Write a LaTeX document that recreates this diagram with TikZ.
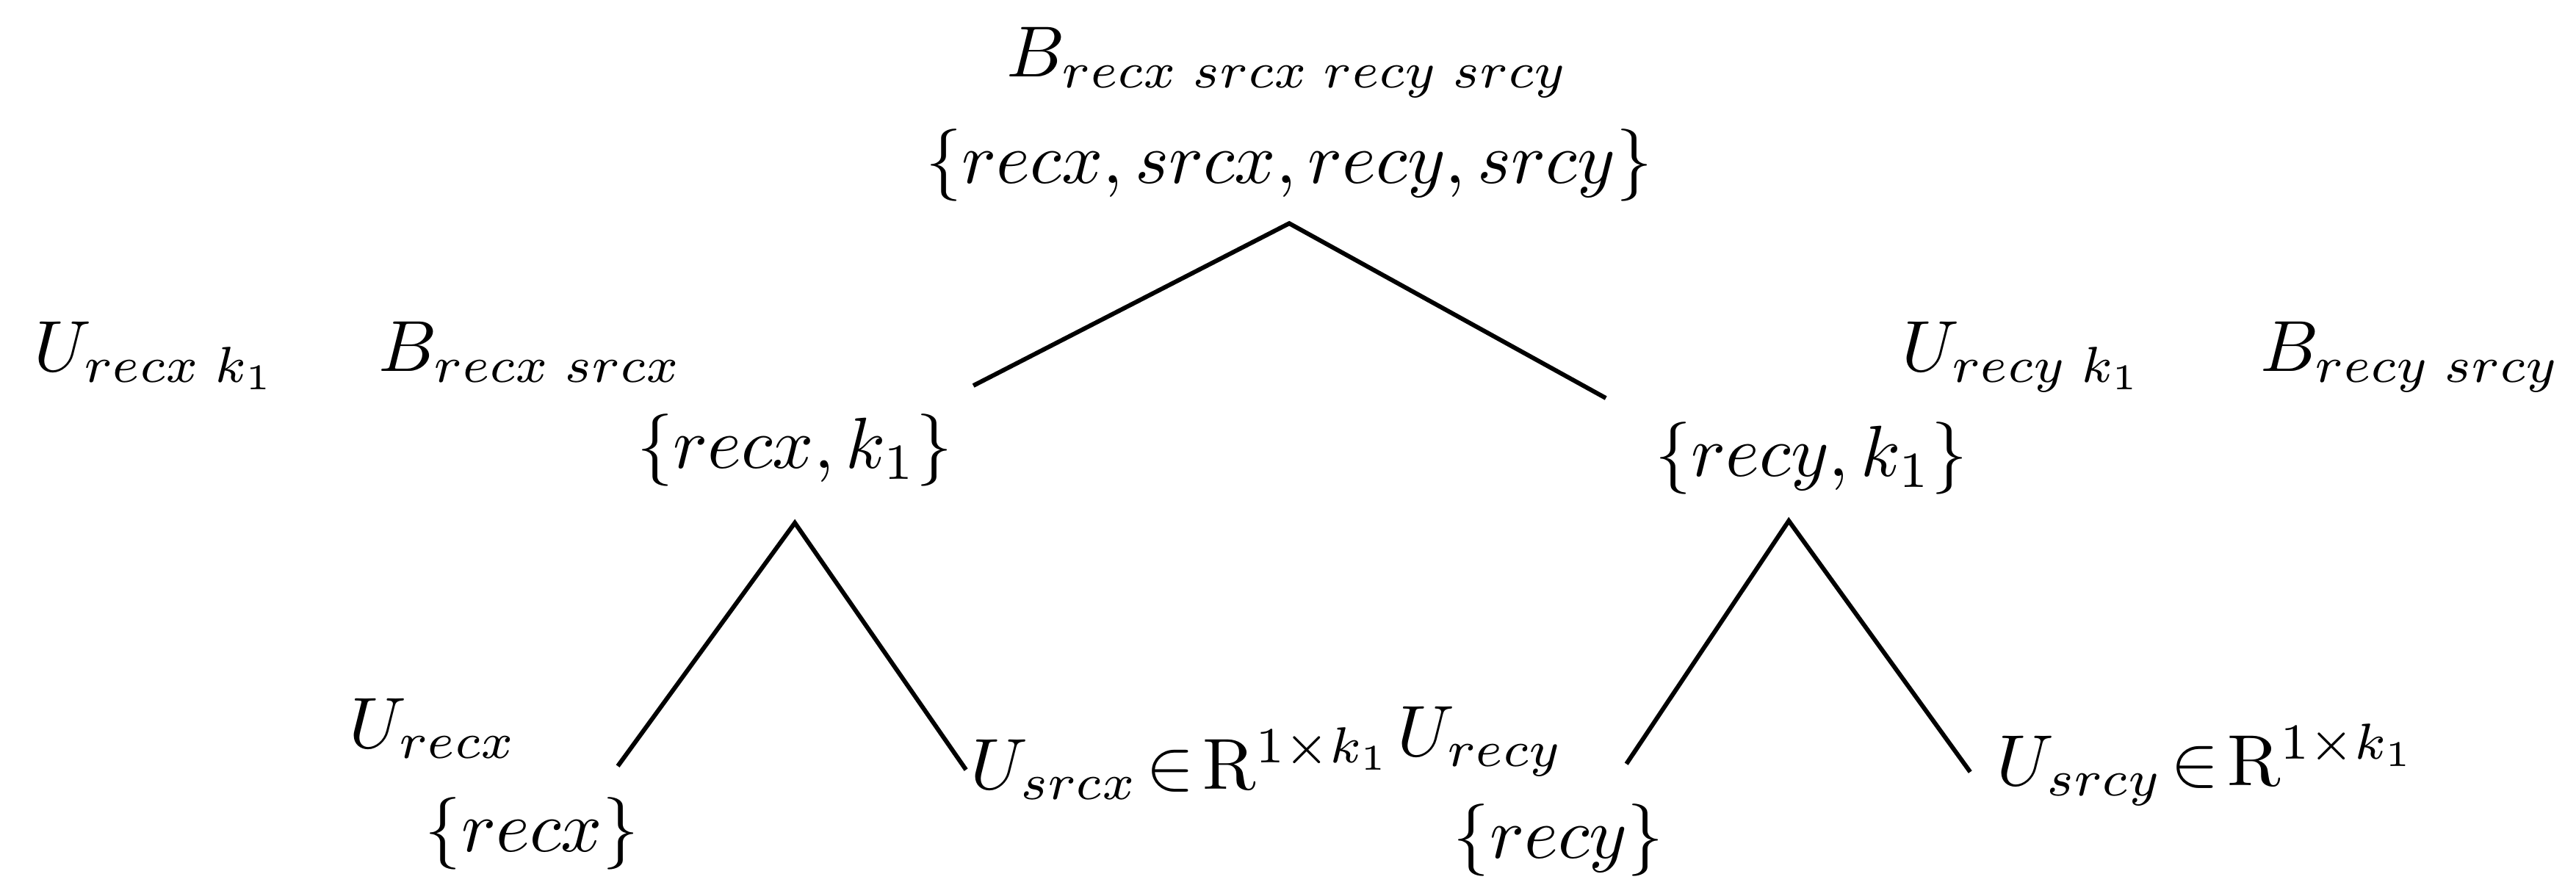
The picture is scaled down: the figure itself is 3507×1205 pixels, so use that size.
\documentclass[tikz,border=0pt]{standalone}
\usepackage{amsmath}
\usepackage{tikz}
\usetikzlibrary{positioning,calc}

\begin{document}
\begin{tikzpicture}[
    x=0.0035714cm, y=-0.0035714cm, scale=2.8, transform shape,
    lbl/.style={inner sep=0pt, anchor=base west},
    setnode/.style={inner xsep=0pt, inner ysep=2.8pt, anchor=base},
    branch/.style={line width=1.7pt}
]
\useasboundingbox (0,0) rectangle (3507,1205);
\node[lbl] (brt) at (1369,105) {$B_{recx\;srcx\;recy\;srcy}$};
\node[setnode] (rt) at (1755,250) {$\{recx,srcx,recy,srcy\}$};
\node[lbl] (ukx) at (45,506) {$U_{recx\;k_1}$};
\node[lbl] (bx) at (514,506) {$B_{recx\;srcx}$};
\node[setnode, inner ysep=4.8pt] (kx) at (1082,638) {$\{recx,k_1\}$};
\node[lbl] (uky) at (2588,506) {$U_{recy\;k_1}$};
\node[lbl] (by) at (3075,506) {$B_{recy\;srcy}$};
\node[setnode, inner ysep=3.4pt] (ky) at (2466,649) {$\{recy,k_1\}$};
\node[lbl] (urx) at (474,1018) {$U_{recx}$};
\node[lbl] (rx) at (577,1159) {$\{recx\}$};
\node[lbl] (usx) at (1320,1074) {$U_{srcx}\mkern2mu{\in}\mkern2mu\mathrm{R}^{1\times k_1}$};
\node[lbl] (ury) at (1901,1029) {$U_{recy}$};
\node[lbl] (ry) at (1977,1168) {$\{recy\}$};
\node[lbl] (usy) at (2717,1069) {$U_{srcy}\mkern2mu{\in}\mkern2mu\mathrm{R}^{1\times k_1}$};
\coordinate (ekx) at (1325,525);
\coordinate (eky) at (2186,542);
\coordinate (erx) at (841,1043);
\coordinate (esx) at (1315,1048);
\coordinate (ery) at (2214,1040);
\coordinate (esy) at (2682,1051);
\draw[branch] (ekx) -- (rt.south) -- (eky);
\draw[branch] (erx) -- (kx.south) -- (esx);
\draw[branch] (ery) -- ($(ky.south)+(-31,0)$) -- (esy);
\end{tikzpicture}
\end{document}
